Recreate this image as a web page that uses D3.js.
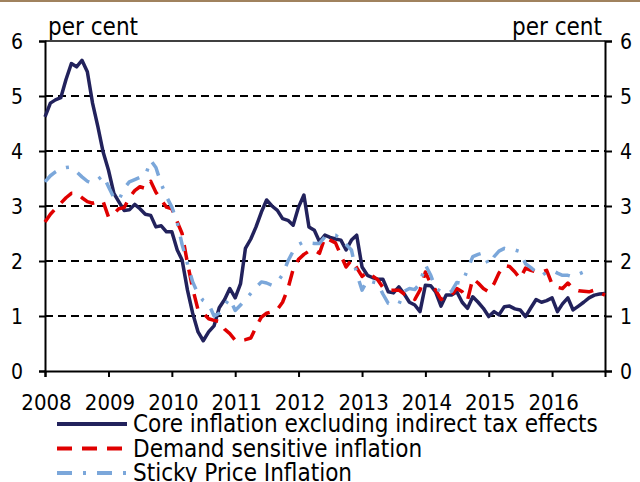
<!DOCTYPE html>
<html>
<head>
<meta charset="utf-8">
<script src="https://cdn.jsdelivr.net/npm/d3@7"></script>
<style>
  body { margin: 0; background: #fff; }
  svg { display: block; }
  text { font-family: "DejaVu Sans Condensed", "DejaVu Sans", sans-serif; fill: #000; }
</style>
</head>
<body>
<svg id="chart" width="640" height="482"></svg>
<script>
// monthly data, Jan 2008 .. Nov 2016 (per cent)
var years = ["2008", "2009", "2010", "2011", "2012", "2013", "2014", "2015", "2016"];
var yTicks = [0, 1, 2, 3, 4, 5, 6];

var core = [4.62, 4.87, 4.93, 4.97, 5.30, 5.59, 5.53, 5.65, 5.44, 4.87, 4.44, 3.98,
            3.65, 3.23, 3.08, 2.92, 2.93, 3.03, 2.95, 2.85, 2.83, 2.62, 2.64, 2.53,
            2.53, 2.20, 2.02, 1.47, 1.05, 0.71, 0.55, 0.71, 0.82, 1.15, 1.30, 1.50,
            1.33, 1.59, 2.23, 2.40, 2.62, 2.89, 3.11, 3.00, 2.92, 2.77, 2.74, 2.65,
            2.98, 3.20, 2.62, 2.56, 2.35, 2.47, 2.43, 2.40, 2.38, 2.20, 2.38, 2.47,
            1.89, 1.74, 1.70, 1.67, 1.67, 1.44, 1.42, 1.53, 1.40, 1.25, 1.20, 1.08,
            1.56, 1.55, 1.44, 1.18, 1.38, 1.38, 1.44, 1.25, 1.14, 1.35, 1.25, 1.14,
            0.99, 1.08, 1.02, 1.17, 1.18, 1.13, 1.11, 0.99, 1.15, 1.30, 1.25, 1.28,
            1.33, 1.08, 1.22, 1.33, 1.11, 1.18, 1.25, 1.33, 1.38, 1.40, 1.41];

var demand = [2.71, 2.85, 2.95, 3.05, 3.15, 3.23, 3.23, 3.15, 3.08, 3.05, 3.08, 3.08,
              2.80, 2.86, 2.95, 2.97, 3.15, 3.28, 3.35, 3.32, 3.45, 3.25, 3.11, 2.98,
              2.95, 2.71, 2.50, 1.96, 1.50, 1.11, 1.05, 0.95, 0.92, 0.90, 0.76, 0.68,
              0.56, 0.55, 0.57, 0.60, 0.80, 0.98, 1.05, 1.08, 1.12, 1.25, 1.50, 1.85,
              2.03, 2.12, 2.18, 2.20, 2.14, 2.43, 2.38, 2.33, 2.10, 1.89, 2.02, 1.88,
              1.72, 1.80, 1.73, 1.66, 1.52, 1.47, 1.47, 1.47, 1.40, 1.38, 1.30, 1.47,
              1.80, 1.59, 1.47, 1.30, 1.35, 1.38, 1.50, 1.44, 1.29, 1.68, 1.60, 1.50,
              1.44, 1.59, 1.78, 1.92, 1.90, 1.80, 1.68, 1.87, 1.83, 1.80, 1.80, 1.83,
              1.58, 1.52, 1.50, 1.60, 1.50, 1.46, 1.45, 1.44, 1.47, 1.42, 1.38];

var sticky = [3.44, 3.55, 3.62, 3.68, 3.70, 3.71, 3.62, 3.53, 3.45, 3.41, 3.48, 3.56,
              3.35, 3.15, 3.10, 3.32, 3.44, 3.48, 3.52, 3.55, 3.83, 3.70, 3.40, 3.17,
              2.98, 2.70, 2.30, 1.95, 1.62, 1.40, 1.28, 1.22, 1.00, 1.05, 1.20, 1.32,
              1.10, 1.20, 1.30, 1.41, 1.52, 1.62, 1.60, 1.56, 1.62, 1.75, 2.00, 2.18,
              2.30, 2.35, 2.33, 2.32, 2.32, 2.44, 2.46, 2.47, 2.40, 2.30, 2.20, 1.77,
              1.47, 1.65, 1.62, 1.60, 1.40, 1.23, 1.21, 1.21, 1.45, 1.50, 1.48, 1.60,
              1.93, 1.74, 1.50, 1.45, 1.40, 1.45, 1.61, 1.59, 1.85, 2.08, 2.12, 2.15,
              1.93, 2.08, 2.18, 2.23, 2.20, 2.20, 2.17, 1.95, 1.88, 1.80, 1.73, 1.80,
              1.83, 1.78, 1.74, 1.74, 1.71, 1.76, 1.80, 1.85, null, null, null];

var seriesNames = ["Core inflation excluding indirect tax effects",
                   "Demand sensitive inflation",
                   "Sticky Price Inflation"];

var months = d3.timeMonth.range(new Date(2008, 0, 1), new Date(2016, 11, 1));

var svg = d3.select("#chart");
var plotLeft = 45, plotRight = 605, plotTop = 41, plotBottom = 371;

var x = d3.scaleTime()
    .domain([months[0], months[months.length - 1]])
    .range([plotLeft, plotRight]);
var y = d3.scaleLinear().domain([0, 6]).range([plotBottom, plotTop]);

// brown rule across the top
svg.append("rect").attr("x", 0).attr("y", 0).attr("width", 640).attr("height", 2)
    .attr("fill", "#a0825e");

// gridlines
svg.append("g").selectAll("line.grid")
    .data(yTicks.filter(d => d > 0 && d < 6))
    .enter().append("line")
    .attr("class", "grid")
    .attr("x1", plotLeft).attr("x2", plotRight)
    .attr("y1", d => y(d)).attr("y2", d => y(d))
    .attr("stroke", "#000").attr("stroke-width", 2)
    .attr("stroke-dasharray", "8,5");

svg.append("line")
    .attr("x1", plotLeft).attr("x2", plotRight)
    .attr("y1", y(6)).attr("y2", y(6))
    .attr("stroke", "#000").attr("stroke-width", 1.5);

// axes
var yLeft = svg.append("g")
    .attr("transform", "translate(" + plotLeft + ",0)")
    .call(d3.axisLeft(y).tickValues(yTicks).tickSize(6).tickPadding(16).tickFormat(d3.format("d")));
var yRight = svg.append("g")
    .attr("transform", "translate(" + plotRight + ",0)")
    .call(d3.axisRight(y).tickValues(yTicks).tickSize(7).tickPadding(8).tickFormat(d3.format("d")));
var xAxis = svg.append("g")
    .attr("transform", "translate(0," + plotBottom + ")")
    .call(d3.axisBottom(x)
        .tickValues(years.map(v => new Date(+v, 0, 1)))
        .tickSize(6).tickPadding(0)
        .tickFormat(d3.timeFormat("%Y")));

[yLeft, yRight, xAxis].forEach(function (g) {
    g.select(".domain").attr("stroke", "#000").attr("stroke-width", 2);
    g.selectAll(".tick line").attr("stroke", "#000").attr("stroke-width", 2);
    g.selectAll("text").attr("fill", "#000");
});
xAxis.selectAll("text").style("font-size", "22px").attr("dy", null).attr("y", 39).attr("dx", 1);
yLeft.selectAll("text").style("font-size", "21px").attr("dy", "0.36em");
yRight.selectAll("text").style("font-size", "21px").attr("dy", "0.36em");

svg.append("text").attr("x", 48).attr("y", 35).style("font-size", "24px").text("per cent");
svg.append("text").attr("x", 602).attr("y", 35).attr("text-anchor", "end")
    .style("font-size", "24px").text("per cent");

// series
var styles = [
    {data: core, color: "#22225c", dash: null},
    {data: demand, color: "#e00000", dash: "15,10"},
    {data: sticky, color: "#7ba7da", dash: "15,11,3,11"}
];

var line = d3.line()
    .defined(d => d[1] != null)
    .x(d => x(d[0]))
    .y(d => y(d[1]));

styles.forEach(function (s) {
    svg.append("path")
        .datum(months.map((m, i) => [m, s.data[i]]))
        .attr("fill", "none")
        .attr("stroke", s.color)
        .attr("stroke-width", 3.5)
        .attr("stroke-linejoin", "round")
        .attr("stroke-dasharray", s.dash)
        .attr("d", line);
});

// legend
var legend = svg.append("g");
styles.forEach(function (s, i) {
    var ly = 424 + i * 24.5;
    legend.append("line")
        .attr("x1", 57).attr("x2", 127)
        .attr("y1", ly).attr("y2", ly)
        .attr("stroke", s.color).attr("stroke-width", 4)
        .attr("stroke-dasharray", s.dash);
    legend.append("text")
        .attr("x", 133).attr("y", ly + 8)
        .style("font-size", "24px")
        .text(seriesNames[i]);
});
</script>
</body>
</html>
